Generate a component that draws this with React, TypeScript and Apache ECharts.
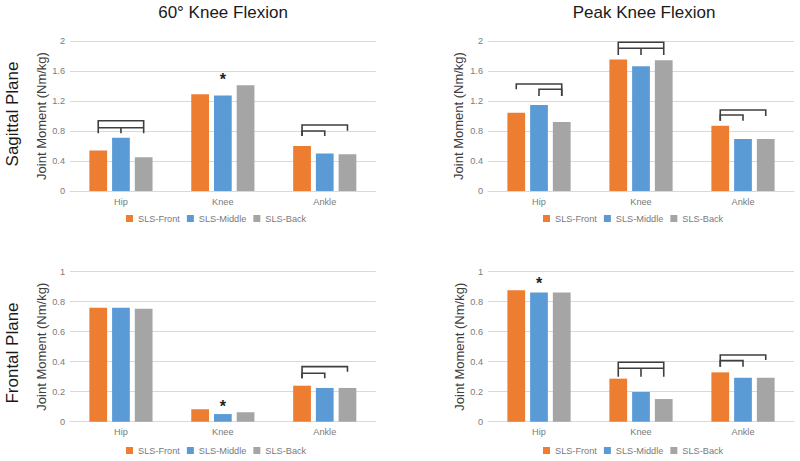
import React, { useEffect, useRef } from 'react';
import * as echarts from 'echarts';

// ---------- data ----------
const categories = ['Hip', 'Knee', 'Ankle'];
const seriesNames = ['SLS-Front', 'SLS-Middle', 'SLS-Back'];
const colors = ['#ED7D31', '#5B9BD5', '#A5A5A5'];

const columnTitles = ['60° Knee Flexion', 'Peak Knee Flexion'];
const rowTitles = ['Sagittal Plane', 'Frontal Plane'];
const yAxisTitle = 'Joint Moment (Nm/kg)';

// Sagittal plane, 60° knee flexion
const sag60Front = [0.54, 1.29, 0.6];
const sag60Middle = [0.71, 1.275, 0.5];
const sag60Back = [0.45, 1.41, 0.49];
// Sagittal plane, peak knee flexion
const sagPeakFront = [1.045, 1.755, 0.87];
const sagPeakMiddle = [1.147, 1.665, 0.693];
const sagPeakBack = [0.92, 1.743, 0.693];
// Frontal plane, 60° knee flexion
const fro60Front = [0.76, 0.083, 0.24];
const fro60Middle = [0.76, 0.051, 0.225];
const fro60Back = [0.753, 0.063, 0.225];
// Frontal plane, peak knee flexion
const froPeakFront = [0.876, 0.287, 0.329];
const froPeakMiddle = [0.862, 0.198, 0.293];
const froPeakBack = [0.862, 0.151, 0.293];

// significance brackets: [category, fromBar, toBar, level, leftTickEnd, rightTickEnd]
const sag60Brackets = [
  [0, 0, 2, 0.937, 0.769, 0.769],
  [0, 0, 2, 0.844, 0.844, 0.844],
  [0, 1, 1, 0.844, 0.769, 0.769],
  [2, 0, 2, 0.88, 0.733, 0.804],
  [2, 0, 1, 0.8, 0.733, 0.733],
];
const sagPeakBrackets = [
  [0, 0, 2, 1.427, 1.356, 1.267],
  [0, 1, 2, 1.356, 1.267, 1.267],
  [1, 0, 2, 1.983, 1.813, 1.813],
  [1, 0, 2, 1.903, 1.903, 1.903],
  [1, 1, 1, 1.903, 1.813, 1.813],
  [2, 0, 2, 1.08, 0.937, 1.0],
  [2, 0, 1, 1.013, 0.937, 0.937],
];
const fro60Brackets = [
  [2, 0, 2, 0.367, 0.289, 0.333],
  [2, 0, 1, 0.323, 0.289, 0.289],
];
const froPeakBrackets = [
  [1, 0, 2, 0.396, 0.3, 0.3],
  [1, 0, 2, 0.356, 0.356, 0.356],
  [1, 1, 1, 0.356, 0.3, 0.3],
  [2, 0, 2, 0.445, 0.367, 0.411],
  [2, 0, 1, 0.407, 0.367, 0.367],
];

// stars: [category, bar, value]
const sag60Stars = [[1, 1, 1.543]];
const sagPeakStars: number[][] = [];
const fro60Stars = [[1, 1, 0.127]];
const froPeakStars = [[0, 1, 0.949]];

// ---------- layout helpers ----------
const BAR_CAT_GAP = 0.38;
const BAR_GAP = 0.28;
const N_BARS = 3;
const FONT = '"Liberation Sans", Arial, sans-serif';
const TICK_COLOR = '#7a7a7a';

function barCenterX(api: any, cat: number, bar: number) {
  const catW = api.size([1, 0])[0];
  const bw = (catW * (1 - BAR_CAT_GAP)) / (N_BARS + (N_BARS - 1) * BAR_GAP);
  const groupW = N_BARS * bw + (N_BARS - 1) * BAR_GAP * bw;
  const cx = api.coord([cat, 0])[0];
  return cx - groupW / 2 + bar * bw * (1 + BAR_GAP) + bw / 2;
}

const panels = [
  {
    grid: { left: 70, top: 41, width: 305.7, height: 150 },
    max: 2, interval: 0.4,
    values: [sag60Front, sag60Middle, sag60Back],
    brackets: sag60Brackets, stars: sag60Stars,
    legend: { left: 126, top: 214 }, nameGap: 21,
  },
  {
    grid: { left: 488, top: 41, width: 306, height: 150 },
    max: 2, interval: 0.4,
    values: [sagPeakFront, sagPeakMiddle, sagPeakBack],
    brackets: sagPeakBrackets, stars: sagPeakStars,
    legend: { left: 543, top: 214 }, nameGap: 23.5,
  },
  {
    grid: { left: 70, top: 271.7, width: 305.7, height: 150 },
    max: 1, interval: 0.2,
    values: [fro60Front, fro60Middle, fro60Back],
    brackets: fro60Brackets, stars: fro60Stars,
    legend: { left: 126, top: 446 }, nameGap: 21,
  },
  {
    grid: { left: 488, top: 271.7, width: 306, height: 150 },
    max: 1, interval: 0.2,
    values: [froPeakFront, froPeakMiddle, froPeakBack],
    brackets: froPeakBrackets, stars: froPeakStars,
    legend: { left: 543, top: 446 }, nameGap: 22,
  },
];

function buildOption() {
  const grid: any[] = [];
  const xAxis: any[] = [];
  const yAxis: any[] = [];
  const legend: any[] = [];
  const series: any[] = [];

  panels.forEach((p, i) => {
    grid.push({ ...p.grid, containLabel: false });
    xAxis.push({
      type: 'category',
      gridIndex: i,
      data: categories,
      axisLine: { show: true, lineStyle: { color: '#d9d9d9', width: 1 } },
      axisTick: { show: false },
      axisLabel: { color: TICK_COLOR, fontSize: 9.2, fontFamily: FONT, margin: 6 },
    });
    yAxis.push({
      type: 'value',
      gridIndex: i,
      min: 0,
      max: p.max,
      interval: p.interval,
      name: yAxisTitle,
      nameLocation: 'middle',
      nameGap: p.nameGap,
      nameTextStyle: { color: '#404040', fontSize: 13, fontFamily: FONT },
      axisLine: { show: false },
      axisTick: { show: false },
      splitLine: { lineStyle: { color: '#d9d9d9', width: 1 } },
      axisLabel: { color: TICK_COLOR, fontSize: 9.2, fontFamily: FONT, margin: 5 },
    });
    legend.push({
      data: seriesNames,
      left: p.legend.left,
      top: p.legend.top,
      padding: 0,
      icon: 'rect',
      itemWidth: 7,
      itemHeight: 7,
      itemGap: 7,
      textStyle: { color: TICK_COLOR, fontSize: 9.2, fontFamily: FONT },
      selectedMode: false,
    });
    p.values.forEach((vals, s) => {
      series.push({
        type: 'bar',
        name: seriesNames[s],
        xAxisIndex: i,
        yAxisIndex: i,
        data: vals,
        barGap: `${BAR_GAP * 100}%`,
        barCategoryGap: `${BAR_CAT_GAP * 100}%`,
        itemStyle: { color: colors[s] },
        emphasis: { disabled: true },
      });
    });
    series.push({
      type: 'custom',
      name: `brackets-${i}`,
      xAxisIndex: i,
      yAxisIndex: i,
      silent: true,
      z: 5,
      encode: { x: 0, y: 3 },
      data: p.brackets,
      renderItem: (params: any, api: any) => {
        const cat = api.value(0);
        const x1 = barCenterX(api, cat, api.value(1));
        const x2 = barCenterX(api, cat, api.value(2));
        const yL = api.coord([cat, api.value(3)])[1];
        const yA = api.coord([cat, api.value(4)])[1];
        const yB = api.coord([cat, api.value(5)])[1];
        return {
          type: 'polyline',
          shape: { points: [[x1, yA], [x1, yL], [x2, yL], [x2, yB]] },
          style: { stroke: '#3f3f3f', lineWidth: 1.6, fill: 'none' },
        };
      },
    });
    series.push({
      type: 'custom',
      name: `stars-${i}`,
      xAxisIndex: i,
      yAxisIndex: i,
      silent: true,
      z: 5,
      encode: { x: 0, y: 2 },
      data: p.stars,
      renderItem: (params: any, api: any) => {
        const cat = api.value(0);
        const x = barCenterX(api, cat, api.value(1));
        const y = api.coord([cat, api.value(2)])[1];
        return {
          type: 'text',
          x,
          y: y + 4,
          style: {
            text: '*',
            fontSize: 16,
            fontWeight: 'bold',
            fontFamily: FONT,
            fill: '#222',
            align: 'center',
            verticalAlign: 'middle',
          },
        };
      },
    });
  });

  const graphic: any[] = [
    {
      type: 'text', x: 223, y: 12,
      style: { text: columnTitles[0], fontSize: 17, fontFamily: FONT, fill: '#1a1a1a', align: 'center', verticalAlign: 'middle' },
    },
    {
      type: 'text', x: 644, y: 12,
      style: { text: columnTitles[1], fontSize: 17, fontFamily: FONT, fill: '#1a1a1a', align: 'center', verticalAlign: 'middle' },
    },
    {
      type: 'text', x: 12, y: 114, rotation: Math.PI / 2,
      style: { text: rowTitles[0], fontSize: 17, fontFamily: FONT, fill: '#1a1a1a', align: 'center', verticalAlign: 'middle' },
    },
    {
      type: 'text', x: 12, y: 353, rotation: Math.PI / 2,
      style: { text: rowTitles[1], fontSize: 17, fontFamily: FONT, fill: '#1a1a1a', align: 'center', verticalAlign: 'middle' },
    },
  ];

  return {
    animation: false,
    backgroundColor: '#ffffff',
    grid,
    xAxis,
    yAxis,
    legend,
    series,
    graphic,
  };
}

export default function App() {
  const ref = useRef<HTMLDivElement>(null);
  useEffect(() => {
    document.body.style.margin = '0';
    const chart = echarts.init(ref.current as HTMLDivElement, null, { renderer: 'svg' });
    chart.setOption(buildOption() as any);
    return () => {
      chart.dispose();
    };
  }, []);
  return <div ref={ref} style={{ width: 800, height: 461 }} />;
}
